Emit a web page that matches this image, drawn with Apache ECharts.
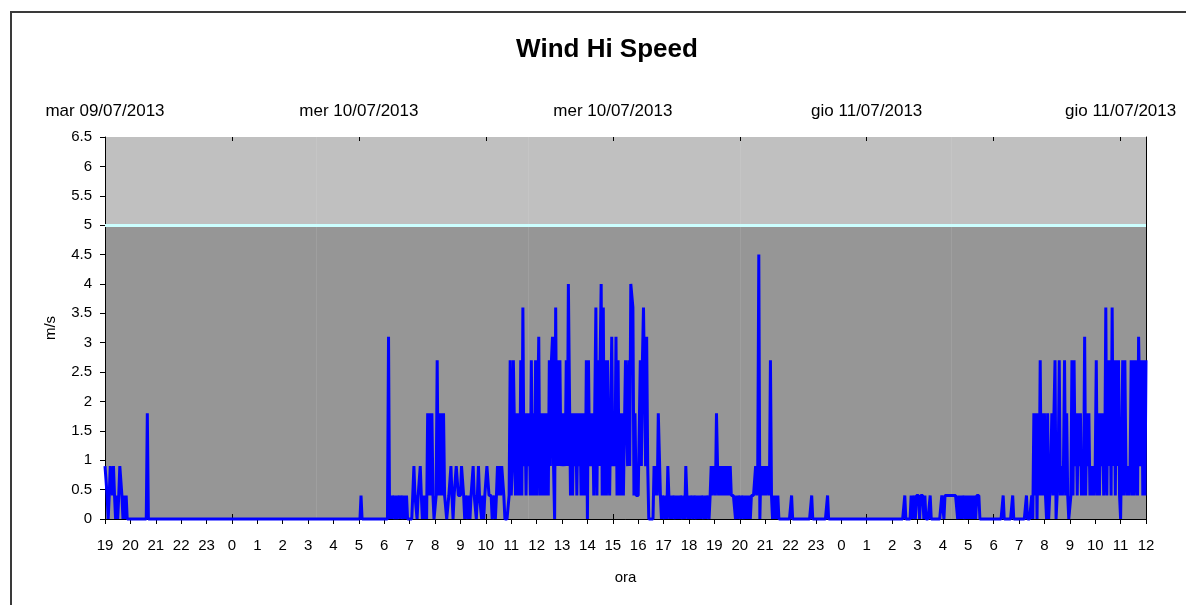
<!DOCTYPE html>
<html>
<head>
<meta charset="utf-8">
<script src="https://cdn.jsdelivr.net/npm/echarts@6/dist/echarts.min.js"></script>
<style>
html,body{margin:0;padding:0;background:#fff;overflow:hidden;}
#frame{position:absolute;left:10px;top:11px;width:1400px;height:800px;border-left:2px solid #3a3a3a;border-top:2px solid #3a3a3a;}
#chart{position:absolute;left:0;top:0;width:1186px;height:605px;}
</style>
</head>
<body>
<div id="frame"></div>
<div id="chart"></div>
<script>
// ---- Data: wind hi speed (m/s), one reading every 2.5 minutes (24 per hour),
// ---- from 19:00 on 09/07/2013 to 12:00 on 11/07/2013
const evening09 = [
  0.9, 0.9, 0.4, 0, 0.4, 0.9, 0.9, 0.4, 0.9, 0.4, 0, 0.4, 0, 0.4, 0.9, 0.9, 0.4, 0, 0.4, 0, 0.4, 0, 0, 0,   // 19
  0, 0, 0, 0, 0, 0, 0, 0, 0, 0, 0, 0, 0, 0, 0, 0, 1.8, 0, 0, 0, 0, 0, 0, 0,                                 // 20
  0, 0, 0, 0, 0, 0, 0, 0, 0, 0, 0, 0, 0, 0, 0, 0, 0, 0, 0, 0, 0, 0, 0, 0,                                   // 21
  0, 0, 0, 0, 0, 0, 0, 0, 0, 0, 0, 0, 0, 0, 0, 0, 0, 0, 0, 0, 0, 0, 0, 0,                                   // 22
  0, 0, 0, 0, 0, 0, 0, 0, 0, 0, 0, 0, 0, 0, 0, 0, 0, 0, 0, 0, 0, 0, 0, 0                                    // 23
];
const night10 = [
  0, 0, 0, 0, 0, 0, 0, 0, 0, 0, 0, 0, 0, 0, 0, 0, 0, 0, 0, 0, 0, 0, 0, 0,                                   // 0
  0, 0, 0, 0, 0, 0, 0, 0, 0, 0, 0, 0, 0, 0, 0, 0, 0, 0, 0, 0, 0, 0, 0, 0,                                   // 1
  0, 0, 0, 0, 0, 0, 0, 0, 0, 0, 0, 0, 0, 0, 0, 0, 0, 0, 0, 0, 0, 0, 0, 0,                                   // 2
  0, 0, 0, 0, 0, 0, 0, 0, 0, 0, 0, 0, 0, 0, 0, 0, 0, 0, 0, 0, 0, 0, 0, 0,                                   // 3
  0, 0, 0, 0, 0, 0, 0, 0, 0, 0, 0, 0, 0, 0, 0, 0, 0, 0, 0, 0, 0, 0, 0, 0,                                   // 4
  0, 0, 0.4, 0, 0, 0, 0, 0, 0, 0, 0, 0, 0, 0, 0, 0, 0, 0, 0, 0, 0, 0, 0, 0                                  // 5
];
const morning10 = [
  0, 0, 0, 0, 3.1, 0, 0.4, 0, 0.4, 0.4, 0, 0.4, 0, 0, 0.4, 0, 0.4, 0.4, 0, 0.4, 0, 0.4, 0, 0,              // 6
  0, 0, 0, 0, 0.9, 0.4, 0.4, 0, 0.4, 0.4, 0.9, 0.4, 0, 0.4, 0, 0.4, 0, 1.8, 0.4, 1.8, 0.4, 1.8, 0.4, 0,     // 7
  0, 0.4, 2.7, 0.4, 1.8, 0.4, 1.8, 0.4, 1.8, 0.4, 0.4, 0, 0, 0.4, 0.4, 0.9, 0.4, 0, 0.4, 0.4, 0.9, 0.9, 0.4, 0.4, // 8
  0.4, 0.9, 0.9, 0.4, 0, 0.4, 0.4, 0, 0.4, 0, 0.4, 0.4, 0.9, 0.4, 0.4, 0, 0.4, 0.9, 0.4, 0.4, 0, 0.4, 0, 0.4,  // 9
  0.4, 0.9, 0.9, 0.4, 0.4, 0.4, 0, 0, 0.4, 0, 0.4, 0.9, 0.4, 0.9, 0.4, 0.9, 0.9, 0.4, 0, 0, 0, 0, 0.4, 2.7,    // 10
  0.4, 0.9, 2.7, 2.7, 0.4, 1.8, 0.4, 1.8, 0.4, 2.7, 0.4, 3.6, 0.9, 1.8, 0.4, 1.8, 0.9, 1.8, 0.4, 2.7, 0.4, 1.8, 0.4, 2.7 // 11
];
const afternoon10 = [
  0.4, 1.8, 3.1, 0.4, 1.8, 0.4, 1.8, 0.4, 1.8, 0.4, 1.8, 0.4, 2.7, 0.9, 2.7, 3.1, 0.9, 0, 3.6, 0.9, 2.7, 0.9, 2.7, 0.9, // 12
  1.8, 0.9, 1.8, 0.9, 2.7, 0.9, 4.0, 4.0, 0.4, 1.8, 0.4, 1.8, 0.9, 1.8, 0.4, 1.8, 0.9, 1.8, 0.4, 1.8, 0.4, 1.8, 0.4, 2.7, // 13
  0, 2.7, 0.9, 1.8, 0.9, 1.8, 0.4, 0.4, 3.6, 0.4, 2.7, 0.9, 2.7, 4.0, 0.4, 3.6, 0.4, 2.7, 0.4, 2.7, 0.9, 0.4, 1.8, 3.1,   // 14
  0.9, 1.8, 0.9, 3.1, 0.4, 2.7, 0.4, 1.8, 0.4, 1.8, 0.4, 0.4, 2.7, 1.8, 0.9, 2.7, 0.9, 4.0, 4.0, 3.6, 0.4, 1.8, 0.4, 0.4, // 15
  0.4, 0.4, 2.7, 0.9, 2.7, 3.6, 3.6, 0.9, 3.1, 0.9, 0, 0, 0, 0, 0, 0.9, 0.4, 0.9, 0.4, 1.8, 1.8, 0.4, 0, 0.4,            // 16
  0.4, 0, 0.4, 0, 0.9, 0.4, 0, 0.4, 0, 0.4, 0.4, 0, 0.4, 0, 0.4, 0, 0.4, 0.4, 0, 0.4, 0, 0.9, 0.4, 0                    // 17
];
const evening10 = [
  0.4, 0, 0.4, 0.4, 0, 0.4, 0.4, 0, 0.4, 0, 0.4, 0, 0.4, 0.4, 0, 0.4, 0, 0.4, 0.4, 0, 0.4, 0.9, 0.4, 0.9,         // 18
  0.9, 0.4, 1.8, 0.9, 0.4, 0.9, 0.4, 0.9, 0.4, 0.9, 0.4, 0.9, 0.4, 0.9, 0.4, 0.9, 0.4, 0.4, 0.4, 0.4, 0, 0.4, 0, 0.4, // 19
  0.4, 0, 0.4, 0.4, 0, 0.4, 0, 0.4, 0, 0.4, 0, 0.4, 0.4, 0.4, 0.4, 0.9, 0.4, 0.9, 4.5, 0, 0.9, 0.4, 0.9, 0.4,      // 20
  0.9, 0.4, 0.9, 0.9, 0.4, 2.7, 0.4, 0, 0.4, 0, 0.4, 0, 0.4, 0, 0, 0, 0, 0, 0, 0, 0, 0, 0, 0,                     // 21
  0, 0.4, 0, 0, 0, 0, 0, 0, 0, 0, 0, 0, 0, 0, 0, 0, 0, 0, 0, 0, 0.4, 0, 0, 0,                                     // 22
  0, 0, 0, 0, 0, 0, 0, 0, 0, 0, 0, 0.4, 0, 0, 0, 0, 0, 0, 0, 0, 0, 0, 0, 0                                        // 23
];
const night11 = [
  0, 0, 0, 0, 0, 0, 0, 0, 0, 0, 0, 0, 0, 0, 0, 0, 0, 0, 0, 0, 0, 0, 0, 0,                                         // 0
  0, 0, 0, 0, 0, 0, 0, 0, 0, 0, 0, 0, 0, 0, 0, 0, 0, 0, 0, 0, 0, 0, 0, 0,                                         // 1
  0, 0, 0, 0, 0, 0, 0, 0, 0, 0, 0, 0, 0.4, 0, 0, 0, 0, 0, 0.4, 0, 0.4, 0.4, 0, 0.4,                               // 2
  0.4, 0.4, 0, 0.4, 0.4, 0.4, 0, 0.4, 0, 0, 0, 0, 0.4, 0, 0, 0, 0, 0, 0, 0, 0, 0, 0, 0.4,                         // 3
  0.4, 0, 0.4, 0.4, 0.4, 0.4, 0.4, 0.4, 0.4, 0.4, 0.4, 0.4, 0.4, 0.4, 0, 0.4, 0, 0.4, 0, 0.4, 0.4, 0, 0.4, 0,     // 4
  0.4, 0, 0.4, 0, 0.4, 0, 0.4, 0, 0.4, 0.4, 0.4, 0, 0, 0, 0, 0, 0, 0, 0, 0, 0, 0, 0, 0                           // 5
];
const morning11 = [
  0, 0, 0, 0, 0, 0, 0, 0, 0, 0.4, 0, 0, 0, 0, 0, 0, 0, 0, 0.4, 0, 0, 0, 0, 0,                                     // 6
  0, 0, 0, 0, 0, 0, 0, 0.4, 0, 0, 0, 0, 0.4, 0, 1.8, 0.4, 1.8, 0, 1.8, 0.4, 2.7, 0.4, 1.8, 0.4,                    // 7
  1.8, 0.4, 0, 1.8, 0, 0.4, 0.9, 1.8, 0.4, 1.8, 2.7, 0, 0.4, 0.9, 2.7, 0.4, 0.9, 0.4, 0.9, 2.7, 0.4, 1.8, 0.4, 0,  // 8
  0, 0.4, 2.7, 0.4, 2.7, 0.9, 1.8, 0.4, 1.8, 0.9, 1.8, 0.4, 0.9, 0.4, 3.1, 0.4, 1.8, 0.9, 1.8, 0.4, 0.9, 0.4, 0.9, 0.4, // 9
  0.9, 2.7, 0.4, 1.8, 0.4, 1.8, 0.9, 1.8, 0.4, 0.9, 3.6, 0.4, 2.7, 0.9, 2.7, 0.4, 3.6, 0.9, 2.7, 0.4, 2.7, 0.9, 2.7, 0.4, // 10
  0, 0, 2.7, 0.4, 2.7, 0.9, 0.4, 0.9, 0.4, 0.9, 2.7, 0.4, 2.7, 0.4, 2.7, 0.9, 0.4, 3.1, 3.1, 0.9, 2.7, 0.4, 2.7, 0.4,   // 11
  2.7                                                                                                              // 12:00
];
const hourTicks = ['19','20','21','22','23','0','1','2','3','4','5','6','7','8','9','10','11','12','13','14','15','16','17','18',
                   '19','20','21','22','23','0','1','2','3','4','5','6','7','8','9','10','11','12'];
const dateLabels = ['mar 09/07/2013','mer 10/07/2013','mer 10/07/2013','gio 11/07/2013','gio 11/07/2013'];
const thresholdValue = 5;

const PER_HOUR = 24;
const speed = [].concat(evening09, night10, morning10, afternoon10, evening10, night11, morning11);
const nCat = (hourTicks.length - 1) * PER_HOUR + 1;
const times = [];
for (let i = 0; i < nCat; i++) {
  const totalSec = i * 150;
  const h = (19 + Math.floor(totalSec / 3600)) % 24;
  const m = Math.floor((totalSec % 3600) / 60);
  const s = totalSec % 60;
  times.push(String(h).padStart(2, '0') + ':' + String(m).padStart(2, '0') + ':' + String(s).padStart(2, '0'));
}

const FONT = '"Liberation Sans", Arial, sans-serif';
const lbl = { fontFamily: FONT, fontSize: 15, color: '#000' };
const lblTop = { fontFamily: FONT, fontSize: 17, color: '#000' };

const chart = echarts.init(document.getElementById('chart'), null, { renderer: 'canvas' });
chart.setOption({
  animation: false,
  backgroundColor: 'transparent',
  title: {
    text: 'Wind Hi Speed', left: 602, top: 32, textAlign: 'center',
    textStyle: { fontFamily: FONT, fontSize: 26, fontWeight: 'bold', color: '#000' }
  },
  grid: { left: 105, right: 40, top: 137, bottom: 86 },
  xAxis: [
    {
      type: 'category', data: times, boundaryGap: false, position: 'bottom', z: 1,
      axisLine: { lineStyle: { color: '#000', width: 1 } },
      axisTick: { interval: (i) => i % PER_HOUR === 0, length: 5, lineStyle: { color: '#000' } },
      axisLabel: Object.assign({ interval: (i) => i % PER_HOUR === 0, formatter: (v, i) => hourTicks[Math.round(i / PER_HOUR)], margin: 19 }, lbl),
      splitLine: { show: true, interval: (i) => i > 0 && i % 200 === 0, lineStyle: { color: 'rgba(255,255,255,0.09)', width: 1 } },
      name: 'ora', nameLocation: 'middle', nameGap: 51, nameTextStyle: lbl
    },
    {
      type: 'category', data: times, boundaryGap: false, position: 'top', z: 1,
      axisLine: { lineStyle: { color: '#000', width: 1 } },
      axisTick: { interval: (i) => i % (5 * PER_HOUR) === 0, length: 5, lineStyle: { color: '#000' } },
      axisLabel: Object.assign({ interval: (i) => i % (10 * PER_HOUR) === 0, formatter: (v, i) => dateLabels[Math.round(i / (10 * PER_HOUR))], margin: 17 }, lblTop),
      splitLine: { show: false }
    },
    {
      type: 'category', data: times, boundaryGap: false, position: 'top', z: 1,
      axisLine: { show: false },
      axisTick: { inside: true, interval: (i) => i % (5 * PER_HOUR) === 0, length: 4, lineStyle: { color: '#000' } },
      axisLabel: { show: false },
      splitLine: { show: false }
    }
  ],
  yAxis: [
    {
      type: 'value', min: 0, max: 6.5, interval: 0.5, position: 'left', z: 1,
      axisLine: { show: true, lineStyle: { color: '#000', width: 1 } },
      axisTick: { show: true, length: 5, lineStyle: { color: '#000' } },
      axisLabel: Object.assign({ margin: 13 }, lbl),
      splitLine: { show: false },
      name: 'm/s', nameLocation: 'middle', nameGap: 47, nameTextStyle: lbl
    },
    {
      type: 'value', min: 0, max: 6.5, interval: thresholdValue, position: 'right', z: 0,
      axisLine: { show: true, lineStyle: { color: '#000', width: 1 } },
      axisTick: { show: false },
      axisLabel: { show: false },
      splitLine: { show: false },
      splitArea: { show: true, areaStyle: { color: ['#969696', '#C0C0C0'] } }
    }
  ],
  series: [
    {
      type: 'line', data: speed, xAxisIndex: 0, yAxisIndex: 0,
      symbol: 'none', showSymbol: false, clip: false, z: 3,
      lineStyle: { color: '#0000FF', width: 3, join: 'bevel' },
      markLine: {
        silent: true, symbol: 'none', label: { show: false },
        lineStyle: { color: '#CCFFFF', width: 3, type: 'solid' },
        data: [{ yAxis: thresholdValue }]
      }
    }
  ]
});
</script>
</body>
</html>
